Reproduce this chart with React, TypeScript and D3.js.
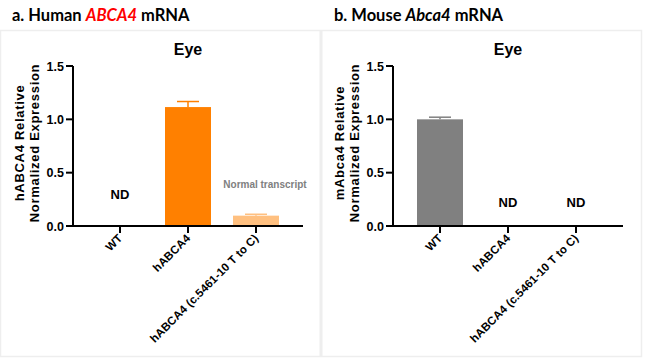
import React from "react";
import * as d3 from "d3";

const categories = ["WT", "hABCA4", "hABCA4 (c.5461-10 T to C)"];
const humanValues = [null, 1.115, 0.097];
const humanErrors = [null, 0.052, 0.013];
const humanColors = ["#ff8000", "#ff8000", "#ffc080"];
const mouseValues = [1.0, null, null];
const mouseErrors = [0.02, null, null];
const mouseColors = ["#808080", "#808080", "#808080"];
const yTicks = [0, 0.5, 1.0, 1.5];

const AX = "Liberation Sans, Arial, Helvetica, sans-serif";

type PanelProps = {
  x0: number;
  values: (number | null)[];
  errors: (number | null)[];
  colors: string[];
  yLabel1: string;
  ndY: number;
  note?: string;
};

function Panel({ x0, values, errors, colors, yLabel1, ndY, note }: PanelProps) {
  const axisX = x0 + 73;
  const axisEnd = x0 + 303;
  const y = d3.scaleLinear().domain([0, 1.5]).range([226, 66]);
  const x = d3
    .scaleBand<string>()
    .domain(categories)
    .range([x0 + 97, x0 + 279])
    .paddingInner(0.3235)
    .paddingOuter(0);
  const bw = x.bandwidth();
  const cx = (c: string) => (x(c) as number) + bw / 2;
  return (
    <g>
      <text x={x0 + 188} y={55} textAnchor="middle" fontFamily={AX} fontWeight="bold" fontSize={16}>
        Eye
      </text>
      {values.map((v, i) => {
        if (v == null) return null;
        const c = categories[i];
        const e = errors[i] || 0;
        return (
          <g key={c}>
            <rect x={x(c)} y={y(v)} width={bw} height={y(0) - y(v)} fill={colors[i]} />
            <line x1={cx(c)} x2={cx(c)} y1={y(v)} y2={y(v + e)} stroke={colors[i]} strokeWidth={1.5} />
            <line x1={cx(c) - 11} x2={cx(c) + 11} y1={y(v + e)} y2={y(v + e)} stroke={colors[i]} strokeWidth={1.5} />
          </g>
        );
      })}
      {values.map((v, i) =>
        v == null ? (
          <text key={"nd" + i} x={cx(categories[i])} y={ndY} textAnchor="middle" fontFamily={AX} fontWeight="bold" fontSize={13}>
            ND
          </text>
        ) : null
      )}
      {note && (
        <text x={cx(categories[2]) + 9} y={188} textAnchor="middle" fontFamily={AX} fontWeight="bold" fontSize={10} fill="#808080">
          {note}
        </text>
      )}
      {/* y axis */}
      <line x1={axisX} x2={axisX} y1={y(1.5)} y2={y(0) + 1} stroke="#000" strokeWidth={2} />
      {yTicks.map((t) => (
        <g key={t}>
          <line x1={axisX - 7} x2={axisX} y1={y(t)} y2={y(t)} stroke="#000" strokeWidth={2} />
          <text x={axisX - 9} y={y(t) + 4.5} textAnchor="end" fontFamily={AX} fontWeight="bold" fontSize={12.5}>
            {t.toFixed(1)}
          </text>
        </g>
      ))}
      {/* x axis */}
      <line x1={axisX - 1} x2={axisEnd} y1={y(0)} y2={y(0)} stroke="#000" strokeWidth={2} />
      {categories.map((c) => (
        <g key={c}>
          <line x1={cx(c)} x2={cx(c)} y1={y(0)} y2={y(0) + 7} stroke="#000" strokeWidth={2} />
          <text
            transform={`translate(${cx(c) + 3},${y(0) + 13}) rotate(-45)`}
            textAnchor="end"
            fontFamily={AX}
            fontWeight="bold"
            fontSize={11.5}
            letterSpacing={0.1}
          >
            {c}
          </text>
        </g>
      ))}
      <text transform={`translate(${x0 + 24},143) rotate(-90)`} textAnchor="middle" fontFamily={AX} fontWeight="bold" fontSize={13} letterSpacing={0.7}>
        {yLabel1}
      </text>
      <text transform={`translate(${x0 + 39},143) rotate(-90)`} textAnchor="middle" fontFamily={AX} fontWeight="bold" fontSize={13} letterSpacing={0.7}>
        Normalized Expression
      </text>
    </g>
  );
}

export default function App() {
  return (
    <svg width={646} height={359} style={{ position: "absolute", left: 0, top: 0, background: "#fff" }}>
      <rect x={0} y={0} width={646} height={359} fill="#fff" />
      <rect x={0.5} y={30.5} width={641} height={326} fill="none" stroke="#eeeeee" strokeWidth={1.5} />
      <line x1={321} x2={321} y1={30} y2={357} stroke="#eeeeee" strokeWidth={3} />
      <text x={12} y={21} fontFamily="Lato, Open Sans, sans-serif" fontWeight={700} fontSize={16.5}>
        a. Human <tspan fill="#ff0000" fontStyle="italic">ABCA4</tspan> mRNA
      </text>
      <text x={334} y={21} fontFamily="Lato, Open Sans, sans-serif" fontWeight={700} fontSize={16.5}>
        b. Mouse <tspan fontStyle="italic">Abca4</tspan> mRNA
      </text>
      <Panel
        x0={0}
        values={humanValues}
        errors={humanErrors}
        colors={humanColors}
        yLabel1="hABCA4 Relative"
        ndY={199}
        note="Normal transcript"
      />
      <Panel
        x0={320}
        values={mouseValues}
        errors={mouseErrors}
        colors={mouseColors}
        yLabel1="mAbca4 Relative"
        ndY={207}
      />
    </svg>
  );
}
